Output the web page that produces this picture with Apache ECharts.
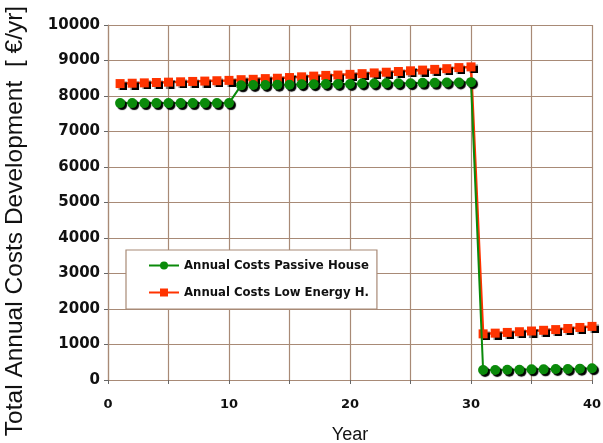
<!DOCTYPE html>
<html>
<head>
<meta charset="utf-8">
<script src="https://cdn.jsdelivr.net/npm/echarts@6/dist/echarts.min.js"></script>
<style>
  html, body { margin: 0; padding: 0; background: #fff; }
  #chart { width: 603px; height: 443px; }
</style>
</head>
<body>
<div id="chart"></div>
<script>
// Years of operation
const years = [1,2,3,4,5,6,7,8,9,10,11,12,13,14,15,16,17,18,19,20,
               21,22,23,24,25,26,27,28,29,30,31,32,33,34,35,36,37,38,39,40];

// Annual costs, Passive House [€/yr]
const passiveHouse = [7800,7800,7800,7800,7800,7800,7800,7800,7800,7800,
                      8300,8310,8310,8320,8320,8330,8330,8340,8340,8340,
                      8350,8350,8360,8360,8360,8370,8370,8380,8380,8390,
                      280,280,290,290,300,300,310,310,320,330];

// Annual costs, Low Energy House [€/yr]
const lowEnergy = [8350,8360,8370,8380,8390,8400,8410,8420,8430,8440,
                   8460,8470,8490,8500,8520,8540,8560,8580,8590,8610,
                   8630,8650,8670,8690,8710,8730,8750,8770,8800,8820,
                   1300,1320,1340,1360,1380,1400,1420,1450,1480,1510];

const seriesNames = ['Annual Costs Passive House', 'Annual Costs Low Energy H.'];
const xTicks = [0, 10, 20, 30, 40];
const yTicks = [0,1000,2000,3000,4000,5000,6000,7000,8000,9000,10000];
const yTitle = 'Total Annual Costs Development  [ €/yr]';

const gridColor = '#a88a76';

const chart = echarts.init(document.getElementById('chart'), null, { renderer: 'canvas' });

function pairs(vals) { return years.map((y, i) => [y, vals[i]]); }

chart.setOption({
  animation: false,
  backgroundColor: '#ffffff',
  grid: { left: 108, right: 11, top: 25, bottom: 63, containLabel: false, outerBoundsMode: 'none' },
  graphic: [{
    type: 'text', x: 15, y: 221, rotation: Math.PI / 2,
    style: {
      text: yTitle, fill: '#111',
      font: '24.5px "Liberation Sans"',
      textAlign: 'center', textVerticalAlign: 'middle'
    }
  }],
  xAxis: {
    type: 'value', min: 0, max: 40, interval: 5,
    name: 'Year', nameLocation: 'middle', nameGap: 46,
    nameTextStyle: { fontFamily: 'Liberation Sans', fontSize: 18, color: '#111' },
    axisLine: { show: true, lineStyle: { color: gridColor, width: 1.2 } },
    axisTick: { show: true, length: 4, lineStyle: { color: '#666' } },
    axisLabel: {
      margin: 18, fontFamily: 'DejaVu Sans', fontWeight: 'bold', fontSize: 13, color: '#111',
      formatter: v => (xTicks.indexOf(v) >= 0 ? String(v) : '')
    },
    splitLine: { show: true, lineStyle: { color: gridColor, width: 1.2 } }
  },
  yAxis: {
    type: 'value', min: 0, max: 10000, interval: 1000,
    axisLine: { show: true, lineStyle: { color: gridColor, width: 1.2 } },
    axisTick: { show: true, length: 4, lineStyle: { color: '#666' } },
    axisLabel: {
      margin: 8, fontFamily: 'DejaVu Sans', fontWeight: 'bold', fontSize: 15, color: '#111',
      formatter: v => (yTicks.indexOf(v) >= 0 ? String(v) : '')
    },
    splitLine: { show: true, lineStyle: { color: gridColor, width: 1.2 } }
  },
  legend: {
    orient: 'vertical', left: 126, top: 250,
    padding: [9, 8, 10, 22], itemGap: 14,
    itemWidth: 30, itemHeight: 10,
    backgroundColor: '#ffffff', borderColor: gridColor, borderWidth: 1.2,
    textStyle: { fontFamily: "'DejaVu Sans Condensed', 'Liberation Sans'", fontWeight: 'bold', fontSize: 13, color: '#111' },
    data: seriesNames
  },
  series: [
    {
      name: seriesNames[0], type: 'line', data: pairs(passiveHouse),
      symbol: 'circle', symbolSize: 10, z: 3,
      lineStyle: { color: '#0a8a0a', width: 2 },
      itemStyle: { color: '#0a8a0a', shadowColor: '#000', shadowBlur: 1, shadowOffsetX: 2, shadowOffsetY: 2 }
    },
    {
      name: seriesNames[1], type: 'line', data: pairs(lowEnergy),
      symbol: 'rect', symbolSize: 9, z: 2,
      lineStyle: { color: '#ff3300', width: 2.5 },
      itemStyle: { color: '#ff3300', shadowColor: '#000', shadowBlur: 1, shadowOffsetX: 2, shadowOffsetY: 2 }
    }
  ]
});
</script>
</body>
</html>
